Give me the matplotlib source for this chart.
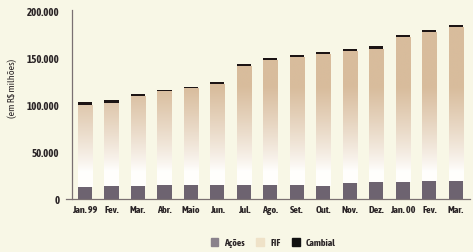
import numpy as np
import matplotlib
matplotlib.use("Agg")
import matplotlib.pyplot as plt
from matplotlib.patches import Patch
from matplotlib.colors import to_rgb

categories = ["Jan. 99", "Fev.", "Mar.", "Abr.", "Maio", "Jun.", "Jul.", "Ago.",
              "Set.", "Out.", "Nov.", "Dez.", "Jan. 00", "Fev.", "Mar."]
acoes = [13300, 13500, 14400, 15200, 15000, 15200, 14800, 14800,
         15000, 14300, 16800, 18500, 18500, 19600, 19600]
totals = [103700, 106000, 112000, 116500, 120000, 125000, 144000, 151000,
          153700, 157000, 160000, 163000, 175400, 181000, 186000]
cambial = [3000, 3000, 1500, 1500, 1500, 2000, 2000, 2000,
           2000, 2000, 2000, 2500, 2500, 2500, 2500]
fif = [t - a - c for t, a, c in zip(totals, acoes, cambial)]
yticks = [0, 50000, 100000, 150000, 200000]
ytick_labels = ["0", "50.000", "100.000", "150.000", "200.000"]

BG = "#f8f7e6"
C_ACOES = "#6d6370"
C_FIF = "#d8bc9c"
C_CAMB = "#1c1414"
TXT = "#2a2426"

plt.rcParams["font.family"] = ["Asap Condensed", "DejaVu Sans"]
plt.rcParams["font.weight"] = "bold"

fig = plt.figure(figsize=(4.73, 2.52), dpi=100, facecolor=BG)
ax = fig.add_axes([72 / 473, 53 / 252, 398 / 473, 189 / 252])
ax.set_facecolor(BG)

x = np.arange(len(categories))
w = 0.53
ax.bar(x, acoes, width=w, color=C_ACOES, zorder=3)
fif_bars = ax.bar(x, fif, width=w, bottom=acoes, color="none", zorder=3)
ax.bar(x, cambial, width=w, bottom=[a + f for a, f in zip(acoes, fif)],
       color=C_CAMB, zorder=4)

# gradient fill for FIF bars (white at bottom to tan at top)
ys = np.linspace(0, 202000, 400)
t = np.clip((ys - 30000) / 90000, 0, 1) ** 0.85
tan = np.array(to_rgb(C_FIF))
white = np.array([1.0, 0.997, 0.99])
grad = (white[None, :] * (1 - t[:, None]) + tan[None, :] * t[:, None])
grad = grad[:, None, :]
for xi, bar in zip(x, fif_bars):
    im = ax.imshow(grad, extent=[xi - w / 2, xi + w / 2, 0, 202000],
                   origin="lower", aspect="auto", zorder=2.5,
                   interpolation="bilinear")
    im.set_clip_path(bar)

ax.set_xlim(-0.49, 14.53)
ax.set_ylim(0, 202000)
ax.set_yticks(yticks)
ax.set_yticklabels(ytick_labels)
ax.set_xticks(x)
ax.set_xticklabels(categories)
ax.tick_params(axis="y", length=0, pad=9, labelsize=7.8, colors=TXT)
ax.tick_params(axis="x", length=0, pad=5, labelsize=7.3, colors=TXT)
for s in ["top", "right"]:
    ax.spines[s].set_visible(False)
ax.spines["left"].set_color("#7a7072")
ax.spines["left"].set_linewidth(0.9)
ax.spines["bottom"].set_visible(False)
ax.plot([-0.015, 1.0], [0, 0], transform=ax.transAxes, color="#7a7072",
        lw=0.9, clip_on=False, zorder=5)

ax.set_ylabel("(em R$ milhões)", fontsize=7.2, color=TXT)
ax.yaxis.set_label_coords(-0.138, 0.587)

handles = [Patch(color="#8a828c", label="Ações"),
           Patch(color="#efe2c8", label="FIF"),
           Patch(color="#111111", label="Cambial")]
fig.legend(handles=handles, loc="center", bbox_to_anchor=(273 / 473, 1 - 243 / 252),
           ncol=3, frameon=False, fontsize=7, handlelength=0.8, handleheight=0.8,
           handletextpad=0.6, columnspacing=1.2, labelcolor=TXT)

fig.savefig("out.png", dpi=100, facecolor=BG)
